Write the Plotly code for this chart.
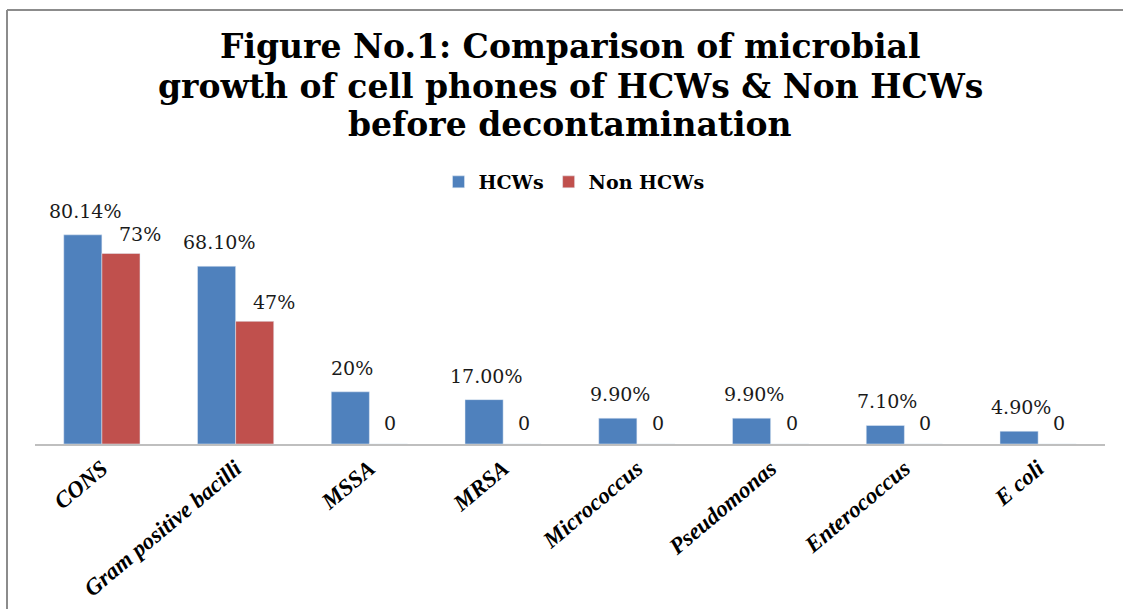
import plotly.graph_objects as go

categories = ["CONS", "Gram positive bacilli", "MSSA", "MRSA", "Micrococcus",
              "Pseudomonas", "Enterococcus", "E coli"]
hcws = [80.14, 68.10, 20.0, 17.00, 9.90, 9.90, 7.10, 4.90]
non_hcws = [73, 47, 0, 0, 0, 0, 0, 0]
hcws_labels = ["80.14%", "68.10%", "20%", "17.00%", "9.90%", "9.90%", "7.10%", "4.90%"]
non_labels = ["73%", "47%", "0", "0", "0", "0", "0", "0"]

BLUE = "#4F81BD"
RED = "#C0504D"

W, H = 1123, 609
L, R, T, B = 35, 18, 183, 165
PW = W - L - R
PH = H - T - B

def py(ypx):
    return (H - B - ypx) / PH

def px(xpx):
    return (xpx - L) / PW

fig = go.Figure()
fig.add_trace(go.Bar(x=categories, y=hcws, name="HCWs", marker_color=BLUE))
fig.add_trace(go.Bar(x=categories, y=non_hcws, name="Non HCWs", marker_color=RED))

annotations = []
label_font = dict(family="DejaVu Serif", size=19, color="#1a1a1a")
for c, v, t in zip(categories, hcws, hcws_labels):
    annotations.append(dict(x=c, y=v, text=t, xref="x", yref="y", showarrow=False,
                            xshift=-17, yshift=11, yanchor="bottom", font=label_font))
for c, v, t in zip(categories, non_hcws, non_labels):
    annotations.append(dict(x=c, y=v, text=t, xref="x", yref="y", showarrow=False,
                            xshift=38 if v > 0 else 21, yshift=6 if v > 0 else 8,
                            yanchor="bottom", font=label_font))

title_lines = ["Figure No.1: Comparison of microbial",
               "growth of cell phones of HCWs &amp; Non HCWs",
               "before decontamination"]
title_y = [46, 86, 124]
for line, ty in zip(title_lines, title_y):
    annotations.append(dict(x=px(570), y=py(ty), xref="paper", yref="paper",
                            text="<b>" + line + "</b>", showarrow=False,
                            xanchor="center", yanchor="middle",
                            font=dict(family="DejaVu Serif", size=33, color="#000000")))

fig.update_layout(
    width=W, height=H,
    margin=dict(l=L, r=R, t=T, b=B, autoexpand=False),
    paper_bgcolor="white", plot_bgcolor="white",
    barmode="group", bargap=0.43, bargroupgap=0,
    showlegend=True,
    legend=dict(orientation="h", x=px(574), y=py(182), xanchor="center", yanchor="middle",
                font=dict(family="DejaVu Serif", size=19, color="#000000", weight="bold"),
                itemwidth=30, traceorder="normal"),
    annotations=annotations,
    shapes=[
        dict(type="line", xref="paper", yref="paper", x0=px(7), x1=px(7),
             y0=py(609), y1=py(10), line=dict(color="#8C8C8C", width=2)),
        dict(type="line", xref="paper", yref="paper", x0=px(7), x1=px(1123),
             y0=py(10), y1=py(10), line=dict(color="#8C8C8C", width=2)),
    ],
)
fig.update_xaxes(showline=True, linecolor="#BFBFBF", linewidth=2, ticks="",
                 tickangle=-40, showgrid=False,
                 tickfont=dict(family="Liberation Serif", size=23, color="#000000",
                               weight="bold", style="italic"))
fig.update_yaxes(range=[0, 100], visible=False, showgrid=False, zeroline=False)

fig.write_html("out.html", config={"displayModeBar": False},
               post_script="document.body.style.margin='0';")
